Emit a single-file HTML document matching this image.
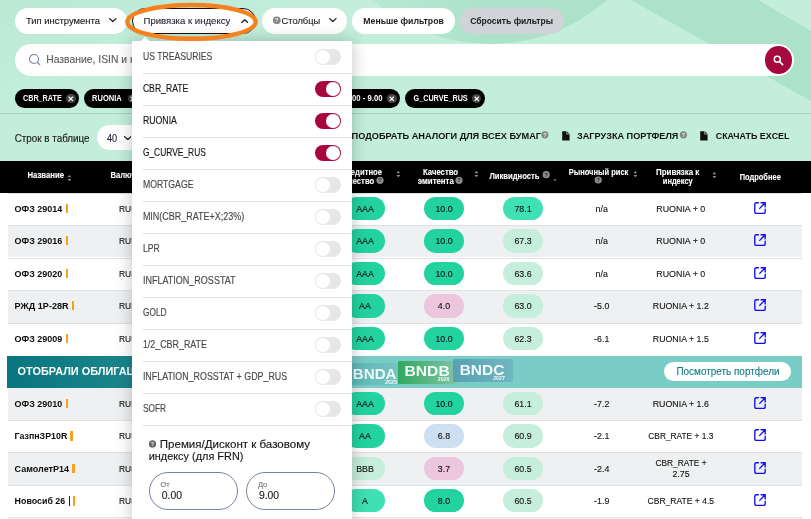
<!DOCTYPE html>
<html lang="ru">
<head>
<meta charset="utf-8">
<title>Облигации</title>
<style>
*{box-sizing:border-box;margin:0;padding:0}
html,body{width:811px;height:519px;overflow:hidden;background:#fff}
body{font-family:"Liberation Sans",sans-serif;color:#222;position:relative;font-size:10px}
.abs{position:absolute}
.tl{font-family:"Liberation Sans",sans-serif;pointer-events:none}
.tl text{white-space:pre}
i{font-style:normal}
#top{position:absolute;left:0;top:0;width:811px;height:161px;background:#c2eedb;overflow:hidden}
.btn{position:absolute;top:8px;height:25.8px;border-radius:13px;background:#fff}
#search{position:absolute;left:14.8px;top:44px;width:779px;height:32px;border-radius:16px;background:#fff}
.chip{position:absolute;top:88.9px;height:18.8px;border-radius:9.4px;background:#000}
.cx{position:absolute;top:93.7px;width:9.6px;height:9.6px;border-radius:50%;background:#444}
.q{position:absolute;border-radius:50%;font-size:6.2px;text-align:center;font-weight:700}
#thead{position:absolute;left:0;top:161.2px;width:811px;height:31.65px;background:#000}
.row{position:absolute;left:8px;width:793.6px;background:#fff;border-top:1px solid #dfe2e4}
.row.g{background:#eef0f1}
.bar{position:absolute;height:9.4px;background:#f5a31f}
.pill{position:absolute;width:40px;height:23.6px;border-radius:11.8px}
#dd{position:absolute;left:132.3px;top:41px;width:219.6px;height:480px;background:#fff;box-shadow:0 0 16px rgba(0,0,0,.24)}
#dd:before{content:"";position:absolute;left:9.4px;top:-2.8px;width:6px;height:6px;background:#fff;transform:rotate(45deg)}
.ln{position:absolute;left:142.8px;width:209.1px;height:1px;background:#dedede}
.tg{position:absolute;left:314.8px;width:26.2px;height:16px;border-radius:8px;background:#e6e6e6}
.tg:after{content:"";position:absolute;left:1.2px;top:1.2px;width:13.6px;height:13.6px;border-radius:50%;background:#fff}
.tg.on{background:#a8073d}
.tg.on:after{left:11.4px}
.inp{position:absolute;top:472.2px;width:88.8px;height:37.5px;border:1px solid #76839e;border-radius:19px}
#banner{position:absolute;left:7px;top:355.8px;width:794.8px;height:31.8px;background:linear-gradient(90deg,#09757f 0,#1b878c 16%,#4fb0b0 34%,#7accc6 43%,#7accc6 100%)}
.bn{position:absolute;border-radius:1.5px}
.pb{position:absolute;border-radius:9.5px;background:#fff}
</style>
</head>
<body>
<div id="top">
<svg class="abs" style="left:0;top:0" width="811" height="161" viewBox="0 0 811 161">
<defs><linearGradient id="tl" x1="0" y1="0" x2="1" y2="0.6"><stop offset="0" stop-color="#bae9d4"/><stop offset="0.3" stop-color="#c2eedb"/></linearGradient>
<linearGradient id="dg" x1="0" y1="0" x2="1" y2="0"><stop offset="0" stop-color="#ace2ca" stop-opacity="0.2"/><stop offset="0.5" stop-color="#ace2ca" stop-opacity="1"/></linearGradient></defs>
<rect width="811" height="161" fill="url(#tl)"/>
<circle cx="490" cy="-134" r="178" fill="url(#dg)"/>
<path d="M631 0 L758 0 L811 31 L811 101 Z" fill="#ace2ca"/>
<rect x="0" y="113" width="811" height="1" fill="#a9d2c1"/>
</svg>
<div class="btn" style="left:15px;width:112px"></div><svg class="abs" style="left:109.2px;top:18.45px" width="7.6" height="4.3" viewBox="0 0 7.6 4.3"><polyline points="0.6,0.6 3.8,3.6 7,0.6" fill="none" stroke="#222" stroke-width="1.3" stroke-linecap="round" stroke-linejoin="round"/></svg>
<div class="btn" style="left:132.4px;width:123.8px;border:1px solid #111"></div><svg class="abs" style="left:240.7px;top:18.55px" width="7.6" height="4.3" viewBox="0 0 7.6 4.3"><polyline points="0.6,3.7 3.8,0.7 7,3.7" fill="none" stroke="#222" stroke-width="1.3" stroke-linecap="round" stroke-linejoin="round"/></svg>
<div class="btn" style="left:261.8px;width:85.2px"></div><svg class="abs" style="left:329.1px;top:18.45px" width="7.6" height="4.3" viewBox="0 0 7.6 4.3"><polyline points="0.6,0.6 3.8,3.6 7,0.6" fill="none" stroke="#222" stroke-width="1.3" stroke-linecap="round" stroke-linejoin="round"/></svg>
<div class="btn" style="left:351.8px;width:103.4px"></div>
<div class="btn" style="left:460px;width:103.7px;background:#d0d3d7"></div>
<div id="search"></div>
<svg class="abs" style="left:28px;top:53px" width="13" height="13" viewBox="0 0 13 13"><circle cx="6" cy="6" r="4.5" fill="none" stroke="#7482a0" stroke-width="1.1"/><path d="M9.4 9.5 L11.8 11.7" stroke="#7482a0" stroke-width="1.1" stroke-linecap="round"/></svg>

<div class="abs" style="left:764.9px;top:46.4px;width:27.2px;height:27.2px;border-radius:50%;background:#a6093d"><svg class="abs" style="left:8.2px;top:8.2px" width="11" height="11" viewBox="0 0 11 11"><circle cx="4.3" cy="4.3" r="3" fill="none" stroke="#fff" stroke-width="1.5"/><path d="M6.7 6.7 L9.6 9.6" stroke="#fff" stroke-width="1.7" stroke-linecap="round"/></svg></div>
<div class="chip" style="left:14.8px;width:64.1px"></div><span class="cx" style="left:66px"><svg class="abs" style="left:0;top:0" width="9.6" height="9.6" viewBox="0 0 9.6 9.6"><path d="M3 3 L6.6 6.6 M6.6 3 L3 6.6" stroke="#fff" stroke-width="1.1" stroke-linecap="round"/></svg></span>
<div class="chip" style="left:83.8px;width:56.7px"></div><span class="cx" style="left:127.5px"><svg class="abs" style="left:0;top:0" width="9.6" height="9.6" viewBox="0 0 9.6 9.6"><path d="M3 3 L6.6 6.6 M6.6 3 L3 6.6" stroke="#fff" stroke-width="1.1" stroke-linecap="round"/></svg></span>
<div class="chip" style="left:145.4px;width:99.6px"></div><span class="cx" style="left:231.5px"><svg class="abs" style="left:0;top:0" width="9.6" height="9.6" viewBox="0 0 9.6 9.6"><path d="M3 3 L6.6 6.6 M6.6 3 L3 6.6" stroke="#fff" stroke-width="1.1" stroke-linecap="round"/></svg></span>
<div class="chip" style="left:250px;width:149.8px"></div><span class="cx" style="left:387px"><svg class="abs" style="left:0;top:0" width="9.6" height="9.6" viewBox="0 0 9.6 9.6"><path d="M3 3 L6.6 6.6 M6.6 3 L3 6.6" stroke="#fff" stroke-width="1.1" stroke-linecap="round"/></svg></span>
<div class="chip" style="left:404.8px;width:80.2px"></div><span class="cx" style="left:471.9px"><svg class="abs" style="left:0;top:0" width="9.6" height="9.6" viewBox="0 0 9.6 9.6"><path d="M3 3 L6.6 6.6 M6.6 3 L3 6.6" stroke="#fff" stroke-width="1.1" stroke-linecap="round"/></svg></span>

<div class="abs" style="left:97px;top:125px;width:50px;height:25px;border-radius:12.5px;background:#fff"></div><svg class="abs" style="left:123.7px;top:136.05px" width="7.6" height="4.3" viewBox="0 0 7.6 4.3"><polyline points="0.6,0.6 3.8,3.6 7,0.6" fill="none" stroke="#222" stroke-width="1.3" stroke-linecap="round" stroke-linejoin="round"/></svg>

<svg class="abs" style="left:562px;top:131.1px" width="7.8" height="9.8" viewBox="0 0 7.8 9.8"><path d="M0.2 0.2 H4.8 L7.6 3 V9.6 H0.2 Z" fill="#111"/><path d="M4.7 0.2 V3.1 H7.6" fill="none" stroke="#c2eedb" stroke-width="0.7"/></svg>
<svg class="abs" style="left:699.9px;top:131.1px" width="7.8" height="9.8" viewBox="0 0 7.8 9.8"><path d="M0.2 0.2 H4.8 L7.6 3 V9.6 H0.2 Z" fill="#111"/><path d="M4.7 0.2 V3.1 H7.6" fill="none" stroke="#c2eedb" stroke-width="0.7"/></svg>
</div>
<div id="thead"></div>
<svg class="abs" style="left:66.6px;top:174.5px" width="4.8" height="6.4" viewBox="0 0 4 6"><path d="M2 0.1 L3.9 2.2 H0.1 Z M2 5.9 L3.9 3.8 H0.1 Z" fill="#8e8e8e"/></svg>

<svg class="abs" style="left:395.7px;top:170.7px" width="4.8" height="6.4" viewBox="0 0 4 6"><path d="M2 0.1 L3.9 2.2 H0.1 Z M2 5.9 L3.9 3.8 H0.1 Z" fill="#8e8e8e"/></svg>
<svg class="abs" style="left:474.3px;top:170.7px" width="4.8" height="6.4" viewBox="0 0 4 6"><path d="M2 0.1 L3.9 2.2 H0.1 Z M2 5.9 L3.9 3.8 H0.1 Z" fill="#8e8e8e"/></svg>
<svg class="abs" style="left:553.1px;top:178.9px" width="4" height="2.2" viewBox="0 0 4 2.2"><path d="M0.2 0.2 H3.8 L2 2.1 Z" fill="#858585"/></svg>
<svg class="abs" style="left:632.5px;top:170.7px" width="4.8" height="6.4" viewBox="0 0 4 6"><path d="M2 0.1 L3.9 2.2 H0.1 Z M2 5.9 L3.9 3.8 H0.1 Z" fill="#8e8e8e"/></svg>
<svg class="abs" style="left:711.6px;top:171.9px" width="4.8" height="6.4" viewBox="0 0 4 6"><path d="M2 0.1 L3.9 2.2 H0.1 Z M2 5.9 L3.9 3.8 H0.1 Z" fill="#8e8e8e"/></svg>

<div class="row" style="top:192.6px;height:32.5px"></div>

<i class="bar" style="left:65.7px;top:203.9px;width:2.2px"></i>

<span class="pill" style="left:345px;top:196.8px;background:#22d3a0"></span>
<span class="pill" style="left:424px;top:196.8px;background:#22d3a0"></span>
<span class="pill" style="left:503px;top:196.8px;background:#3fe0b3"></span>


<svg class="abs" style="left:754px;top:201.8px" width="12" height="12.2" viewBox="0 0 12 12.2"><path d="M4.4 0.8 H2.3 Q0.8 0.8 0.8 2.3 V9.9 Q0.8 11.4 2.3 11.4 H9.7 Q11.2 11.4 11.2 9.9 V7.3" fill="none" stroke="#0d0df2" stroke-width="1.35" stroke-linecap="round"/><path d="M7.1 0.8 H11.2 V4.9 M11 1 L5.7 6.4" fill="none" stroke="#0d0df2" stroke-width="1.35" stroke-linecap="round" stroke-linejoin="miter"/></svg>
<div class="row g" style="top:225.1px;height:32.4px"></div>

<i class="bar" style="left:65.7px;top:236.1px;width:2.2px"></i>

<span class="pill" style="left:345px;top:229.3px;background:#22d3a0"></span>
<span class="pill" style="left:424px;top:229.3px;background:#22d3a0"></span>
<span class="pill" style="left:503px;top:229.3px;background:#c5eedc"></span>


<svg class="abs" style="left:754px;top:234.3px" width="12" height="12.2" viewBox="0 0 12 12.2"><path d="M4.4 0.8 H2.3 Q0.8 0.8 0.8 2.3 V9.9 Q0.8 11.4 2.3 11.4 H9.7 Q11.2 11.4 11.2 9.9 V7.3" fill="none" stroke="#0d0df2" stroke-width="1.35" stroke-linecap="round"/><path d="M7.1 0.8 H11.2 V4.9 M11 1 L5.7 6.4" fill="none" stroke="#0d0df2" stroke-width="1.35" stroke-linecap="round" stroke-linejoin="miter"/></svg>
<div class="row" style="top:257.5px;height:32.6px"></div>

<i class="bar" style="left:65.7px;top:268.8px;width:2.2px"></i>

<span class="pill" style="left:345px;top:261.7px;background:#22d3a0"></span>
<span class="pill" style="left:424px;top:261.7px;background:#22d3a0"></span>
<span class="pill" style="left:503px;top:261.7px;background:#c5eedc"></span>


<svg class="abs" style="left:754px;top:266.7px" width="12" height="12.2" viewBox="0 0 12 12.2"><path d="M4.4 0.8 H2.3 Q0.8 0.8 0.8 2.3 V9.9 Q0.8 11.4 2.3 11.4 H9.7 Q11.2 11.4 11.2 9.9 V7.3" fill="none" stroke="#0d0df2" stroke-width="1.35" stroke-linecap="round"/><path d="M7.1 0.8 H11.2 V4.9 M11 1 L5.7 6.4" fill="none" stroke="#0d0df2" stroke-width="1.35" stroke-linecap="round" stroke-linejoin="miter"/></svg>
<div class="row g" style="top:290.1px;height:32.5px"></div>

<i class="bar" style="left:72.1px;top:301.1px;width:2.2px"></i>

<span class="pill" style="left:345px;top:294.3px;background:#22d3a0"></span>
<span class="pill" style="left:424px;top:294.3px;background:#ebc6dc"></span>
<span class="pill" style="left:503px;top:294.3px;background:#c5eedc"></span>


<svg class="abs" style="left:754px;top:299.3px" width="12" height="12.2" viewBox="0 0 12 12.2"><path d="M4.4 0.8 H2.3 Q0.8 0.8 0.8 2.3 V9.9 Q0.8 11.4 2.3 11.4 H9.7 Q11.2 11.4 11.2 9.9 V7.3" fill="none" stroke="#0d0df2" stroke-width="1.35" stroke-linecap="round"/><path d="M7.1 0.8 H11.2 V4.9 M11 1 L5.7 6.4" fill="none" stroke="#0d0df2" stroke-width="1.35" stroke-linecap="round" stroke-linejoin="miter"/></svg>
<div class="row" style="top:322.6px;height:33.2px"></div>

<i class="bar" style="left:65.7px;top:334.1px;width:2.2px"></i>

<span class="pill" style="left:345px;top:326.8px;background:#22d3a0"></span>
<span class="pill" style="left:424px;top:326.8px;background:#22d3a0"></span>
<span class="pill" style="left:503px;top:326.8px;background:#c5eedc"></span>


<svg class="abs" style="left:754px;top:331.8px" width="12" height="12.2" viewBox="0 0 12 12.2"><path d="M4.4 0.8 H2.3 Q0.8 0.8 0.8 2.3 V9.9 Q0.8 11.4 2.3 11.4 H9.7 Q11.2 11.4 11.2 9.9 V7.3" fill="none" stroke="#0d0df2" stroke-width="1.35" stroke-linecap="round"/><path d="M7.1 0.8 H11.2 V4.9 M11 1 L5.7 6.4" fill="none" stroke="#0d0df2" stroke-width="1.35" stroke-linecap="round" stroke-linejoin="miter"/></svg>
<div class="row g" style="top:387.4px;height:32.4px"></div>

<i class="bar" style="left:65.7px;top:398.6px;width:2.2px"></i>

<span class="pill" style="left:345px;top:391.6px;background:#22d3a0"></span>
<span class="pill" style="left:424px;top:391.6px;background:#22d3a0"></span>
<span class="pill" style="left:503px;top:391.6px;background:#c5eedc"></span>


<svg class="abs" style="left:754px;top:396.6px" width="12" height="12.2" viewBox="0 0 12 12.2"><path d="M4.4 0.8 H2.3 Q0.8 0.8 0.8 2.3 V9.9 Q0.8 11.4 2.3 11.4 H9.7 Q11.2 11.4 11.2 9.9 V7.3" fill="none" stroke="#0d0df2" stroke-width="1.35" stroke-linecap="round"/><path d="M7.1 0.8 H11.2 V4.9 M11 1 L5.7 6.4" fill="none" stroke="#0d0df2" stroke-width="1.35" stroke-linecap="round" stroke-linejoin="miter"/></svg>
<div class="row" style="top:419.8px;height:32.5px"></div>

<i class="bar" style="left:70.2px;top:431.3px;width:3px"></i>

<span class="pill" style="left:345px;top:424px;background:#22d3a0"></span>
<span class="pill" style="left:424px;top:424px;background:#cddff0"></span>
<span class="pill" style="left:503px;top:424px;background:#c5eedc"></span>


<svg class="abs" style="left:754px;top:429px" width="12" height="12.2" viewBox="0 0 12 12.2"><path d="M4.4 0.8 H2.3 Q0.8 0.8 0.8 2.3 V9.9 Q0.8 11.4 2.3 11.4 H9.7 Q11.2 11.4 11.2 9.9 V7.3" fill="none" stroke="#0d0df2" stroke-width="1.35" stroke-linecap="round"/><path d="M7.1 0.8 H11.2 V4.9 M11 1 L5.7 6.4" fill="none" stroke="#0d0df2" stroke-width="1.35" stroke-linecap="round" stroke-linejoin="miter"/></svg>
<div class="row g" style="top:452.3px;height:32.4px"></div>

<i class="bar" style="left:72px;top:463.9px;width:3px"></i>

<span class="pill" style="left:345px;top:456.5px;background:#c5eedc"></span>
<span class="pill" style="left:424px;top:456.5px;background:#ebc6dc"></span>
<span class="pill" style="left:503px;top:456.5px;background:#c5eedc"></span>


<svg class="abs" style="left:754px;top:461.5px" width="12" height="12.2" viewBox="0 0 12 12.2"><path d="M4.4 0.8 H2.3 Q0.8 0.8 0.8 2.3 V9.9 Q0.8 11.4 2.3 11.4 H9.7 Q11.2 11.4 11.2 9.9 V7.3" fill="none" stroke="#0d0df2" stroke-width="1.35" stroke-linecap="round"/><path d="M7.1 0.8 H11.2 V4.9 M11 1 L5.7 6.4" fill="none" stroke="#0d0df2" stroke-width="1.35" stroke-linecap="round" stroke-linejoin="miter"/></svg>
<div class="row" style="top:484.7px;height:32.4px"></div>

<i class="bar" style="left:68.9px;top:496.2px;width:1.6px;background:#223"></i>
<i class="bar" style="left:72.8px;top:496.2px;width:2.4px"></i>

<span class="pill" style="left:345px;top:488.9px;background:#3fe0b3"></span>
<span class="pill" style="left:424px;top:488.9px;background:#22d3a0"></span>
<span class="pill" style="left:503px;top:488.9px;background:#c5eedc"></span>


<svg class="abs" style="left:754px;top:493.9px" width="12" height="12.2" viewBox="0 0 12 12.2"><path d="M4.4 0.8 H2.3 Q0.8 0.8 0.8 2.3 V9.9 Q0.8 11.4 2.3 11.4 H9.7 Q11.2 11.4 11.2 9.9 V7.3" fill="none" stroke="#0d0df2" stroke-width="1.35" stroke-linecap="round"/><path d="M7.1 0.8 H11.2 V4.9 M11 1 L5.7 6.4" fill="none" stroke="#0d0df2" stroke-width="1.35" stroke-linecap="round" stroke-linejoin="miter"/></svg>
<div class="row g" style="top:517.1px;height:4px"></div>
<div id="banner"></div>

<div class="bn" style="left:337px;top:363.1px;width:66.1px;height:22.2px;background:linear-gradient(90deg,#3a9fa4,#70c3c0);opacity:0.55"></div>
<div class="bn" style="left:398.3px;top:361.3px;width:58.8px;height:22.4px;background:linear-gradient(90deg,#2fa65a,#80c3a4);opacity:0.95"></div>
<div class="bn" style="left:453.1px;top:359.1px;width:59.5px;height:22.9px;background:linear-gradient(90deg,#559fb0,#70b6c0);opacity:0.95"></div>
<div class="pb" style="left:663.9px;top:362px;width:127.5px;height:19px"></div>
<svg class="abs tl" style="left:0;top:0" width="811" height="519" viewBox="0 0 811 519"><text x="25.9" y="24.27" font-size="9.7" fill="#222" textLength="74" lengthAdjust="spacingAndGlyphs" stroke="#222" stroke-width="0.14">Тип инструмента</text>
<text x="143.5" y="24.31" font-size="9.8" fill="#1c1c30" textLength="86.8" lengthAdjust="spacingAndGlyphs" stroke="#1c1c30" stroke-width="0.1">Привязка к индексу</text>
<circle cx="276.8" cy="20.3" r="3.85" fill="#858585"/><text x="276.8" y="22.25" font-size="5.5" font-weight="700" fill="#fff" fill-opacity="0.9" text-anchor="middle">?</text>
<text x="281.6" y="24.27" font-size="9.7" fill="#222" textLength="38.6" lengthAdjust="spacingAndGlyphs" stroke="#222" stroke-width="0.14">Столбцы</text>
<text x="363.3" y="24.24" font-size="9.6" fill="#1a1a1a" font-weight="700" textLength="80.5" lengthAdjust="spacingAndGlyphs">Меньше фильтров</text>
<text x="470.2" y="24.24" font-size="9.6" fill="#1a1a1a" font-weight="700" textLength="82.8" lengthAdjust="spacingAndGlyphs">Сбросить фильтры</text>
<text x="46.2" y="62.83" font-size="10.7" fill="#5e5e5e" textLength="201.46" lengthAdjust="spacingAndGlyphs" stroke="#5e5e5e" stroke-width="0.14">Название, ISIN и наименование эмитента</text>
<text x="23" y="101.37" font-size="8.3" fill="#fff" font-weight="700" textLength="38.7" lengthAdjust="spacingAndGlyphs">CBR_RATE</text>
<text x="92.1" y="101.37" font-size="8.3" fill="#fff" font-weight="700" textLength="29.6" lengthAdjust="spacingAndGlyphs">RUONIA</text>
<text x="153.6" y="101.37" font-size="8.3" fill="#fff" font-weight="700" textLength="73" lengthAdjust="spacingAndGlyphs">Плавающий купон (FRN)</text>
<text x="277.76" y="101.37" font-size="8.3" fill="#fff" font-weight="700" textLength="104.74" lengthAdjust="spacingAndGlyphs">Премия/Дисконт: 0.00 - 9.00</text>
<text x="413.5" y="101.37" font-size="8.3" fill="#fff" font-weight="700" textLength="54.2" lengthAdjust="spacingAndGlyphs">G_CURVE_RUS</text>
<text x="14.7" y="141.58" font-size="10" fill="#1a1a1a" textLength="74.9" lengthAdjust="spacingAndGlyphs" stroke="#1a1a1a" stroke-width="0.14">Строк в таблице</text>
<text x="107" y="141.58" font-size="10" fill="#1c1c3a" textLength="10.2" lengthAdjust="spacingAndGlyphs" stroke="#1c1c3a" stroke-width="0.14">40</text>
<text x="351.6" y="139.2" font-size="9.5" fill="#111" font-weight="700" textLength="189.4" lengthAdjust="spacingAndGlyphs">ПОДОБРАТЬ АНАЛОГИ ДЛЯ ВСЕХ БУМАГ</text>
<circle cx="544.9" cy="134.8" r="3.6" fill="#858585"/><text x="544.9" y="136.75" font-size="5.5" font-weight="700" fill="#fff" fill-opacity="0.9" text-anchor="middle">?</text>
<text x="577" y="139.2" font-size="9.5" fill="#111" font-weight="700" textLength="101.4" lengthAdjust="spacingAndGlyphs">ЗАГРУЗКА ПОРТФЕЛЯ</text>
<circle cx="683.4" cy="134.8" r="3.6" fill="#858585"/><text x="683.4" y="136.75" font-size="5.5" font-weight="700" fill="#fff" fill-opacity="0.9" text-anchor="middle">?</text>
<text x="715.8" y="139.2" font-size="9.5" fill="#111" font-weight="700" textLength="73.6" lengthAdjust="spacingAndGlyphs">СКАЧАТЬ EXCEL</text>
<text x="27.5" y="178" font-size="8.3" fill="#fff" font-weight="700" textLength="36.6" lengthAdjust="spacingAndGlyphs" stroke="#fff" stroke-width="0.1">Название</text>
<text x="110.4" y="178" font-size="8.3" fill="#fff" font-weight="700" textLength="29.1" lengthAdjust="spacingAndGlyphs" stroke="#fff" stroke-width="0.1">Валюта</text>
<text x="341.4" y="175" font-size="8.3" fill="#fff" font-weight="700" textLength="40.6" lengthAdjust="spacingAndGlyphs" stroke="#fff" stroke-width="0.1">Кредитное</text>
<text x="340.3" y="183.6" font-size="8.3" fill="#fff" font-weight="700" textLength="33.9" lengthAdjust="spacingAndGlyphs" stroke="#fff" stroke-width="0.1">качество</text>
<circle cx="380" cy="180.3" r="3.6" fill="#8c8c8c"/><text x="380" y="182.25" font-size="5.5" font-weight="700" fill="#111" fill-opacity="0.9" text-anchor="middle">?</text>
<text x="423" y="175" font-size="8.3" fill="#fff" font-weight="700" textLength="35.1" lengthAdjust="spacingAndGlyphs" stroke="#fff" stroke-width="0.1">Качество</text>
<text x="417.8" y="183.6" font-size="8.3" fill="#fff" font-weight="700" textLength="36" lengthAdjust="spacingAndGlyphs" stroke="#fff" stroke-width="0.1">эмитента</text>
<circle cx="459" cy="180.3" r="3.6" fill="#8c8c8c"/><text x="459" y="182.25" font-size="5.5" font-weight="700" fill="#111" fill-opacity="0.9" text-anchor="middle">?</text>
<text x="489.4" y="178.6" font-size="8.3" fill="#fff" font-weight="700" textLength="50" lengthAdjust="spacingAndGlyphs" stroke="#fff" stroke-width="0.1">Ликвидность</text>
<circle cx="546.2" cy="174.7" r="3.6" fill="#8c8c8c"/><text x="546.2" y="176.65" font-size="5.5" font-weight="700" fill="#111" fill-opacity="0.9" text-anchor="middle">?</text>
<text x="568.7" y="175" font-size="8.3" fill="#fff" font-weight="700" textLength="59.7" lengthAdjust="spacingAndGlyphs" stroke="#fff" stroke-width="0.1">Рыночный риск</text>
<circle cx="598.2" cy="180" r="3.6" fill="#8c8c8c"/><text x="598.2" y="181.95" font-size="5.5" font-weight="700" fill="#111" fill-opacity="0.9" text-anchor="middle">?</text>
<text x="656" y="175" font-size="8.3" fill="#fff" font-weight="700" textLength="43.3" lengthAdjust="spacingAndGlyphs" stroke="#fff" stroke-width="0.1">Привязка к</text>
<text x="662.8" y="183.6" font-size="8.3" fill="#fff" font-weight="700" textLength="29.9" lengthAdjust="spacingAndGlyphs" stroke="#fff" stroke-width="0.1">индексу</text>
<text x="739.7" y="180.1" font-size="8.3" fill="#fff" font-weight="700" textLength="41.1" lengthAdjust="spacingAndGlyphs" stroke="#fff" stroke-width="0.1">Подробнее</text>
<text x="14.6" y="211.94" font-size="9.6" fill="#0c0c0c" font-weight="700" textLength="47.7" lengthAdjust="spacingAndGlyphs">ОФЗ 29014</text>
<text x="119" y="212.01" font-size="9.8" fill="#111" textLength="17.79" lengthAdjust="spacingAndGlyphs" stroke="#111" stroke-width="0.12">RUB</text>
<text x="356.18" y="212.01" font-size="9.8" fill="#111" textLength="17.65" lengthAdjust="spacingAndGlyphs" stroke="#111" stroke-width="0.12">AAA</text>
<text x="435.42" y="212.01" font-size="9.8" fill="#111" textLength="17.17" lengthAdjust="spacingAndGlyphs" stroke="#111" stroke-width="0.12">10.0</text>
<text x="514.42" y="212.01" font-size="9.8" fill="#111" textLength="17.17" lengthAdjust="spacingAndGlyphs" stroke="#111" stroke-width="0.12">78.1</text>
<text x="595.57" y="212.01" font-size="9.8" fill="#111" textLength="12.26" lengthAdjust="spacingAndGlyphs" stroke="#111" stroke-width="0.12">n/a</text>
<text x="656.3" y="212.01" font-size="9.8" fill="#111" textLength="49" lengthAdjust="spacingAndGlyphs" stroke="#111" stroke-width="0.12">RUONIA + 0</text>
<text x="14.6" y="244.14" font-size="9.6" fill="#0c0c0c" font-weight="700" textLength="47.7" lengthAdjust="spacingAndGlyphs">ОФЗ 29016</text>
<text x="119" y="244.21" font-size="9.8" fill="#111" textLength="17.79" lengthAdjust="spacingAndGlyphs" stroke="#111" stroke-width="0.12">RUB</text>
<text x="356.18" y="244.21" font-size="9.8" fill="#111" textLength="17.65" lengthAdjust="spacingAndGlyphs" stroke="#111" stroke-width="0.12">AAA</text>
<text x="435.42" y="244.21" font-size="9.8" fill="#111" textLength="17.17" lengthAdjust="spacingAndGlyphs" stroke="#111" stroke-width="0.12">10.0</text>
<text x="514.42" y="244.21" font-size="9.8" fill="#111" textLength="17.17" lengthAdjust="spacingAndGlyphs" stroke="#111" stroke-width="0.12">67.3</text>
<text x="595.57" y="244.21" font-size="9.8" fill="#111" textLength="12.26" lengthAdjust="spacingAndGlyphs" stroke="#111" stroke-width="0.12">n/a</text>
<text x="656.3" y="244.21" font-size="9.8" fill="#111" textLength="49" lengthAdjust="spacingAndGlyphs" stroke="#111" stroke-width="0.12">RUONIA + 0</text>
<text x="14.6" y="276.84" font-size="9.6" fill="#0c0c0c" font-weight="700" textLength="47.7" lengthAdjust="spacingAndGlyphs">ОФЗ 29020</text>
<text x="119" y="276.91" font-size="9.8" fill="#111" textLength="17.79" lengthAdjust="spacingAndGlyphs" stroke="#111" stroke-width="0.12">RUB</text>
<text x="356.18" y="276.91" font-size="9.8" fill="#111" textLength="17.65" lengthAdjust="spacingAndGlyphs" stroke="#111" stroke-width="0.12">AAA</text>
<text x="435.42" y="276.91" font-size="9.8" fill="#111" textLength="17.17" lengthAdjust="spacingAndGlyphs" stroke="#111" stroke-width="0.12">10.0</text>
<text x="514.42" y="276.91" font-size="9.8" fill="#111" textLength="17.17" lengthAdjust="spacingAndGlyphs" stroke="#111" stroke-width="0.12">63.6</text>
<text x="595.57" y="276.91" font-size="9.8" fill="#111" textLength="12.26" lengthAdjust="spacingAndGlyphs" stroke="#111" stroke-width="0.12">n/a</text>
<text x="656.3" y="276.91" font-size="9.8" fill="#111" textLength="49" lengthAdjust="spacingAndGlyphs" stroke="#111" stroke-width="0.12">RUONIA + 0</text>
<text x="14.6" y="309.14" font-size="9.6" fill="#0c0c0c" font-weight="700" textLength="54.1" lengthAdjust="spacingAndGlyphs">РЖД 1Р-28R</text>
<text x="119" y="309.21" font-size="9.8" fill="#111" textLength="17.79" lengthAdjust="spacingAndGlyphs" stroke="#111" stroke-width="0.12">RUB</text>
<text x="359.12" y="309.21" font-size="9.8" fill="#111" textLength="11.77" lengthAdjust="spacingAndGlyphs" stroke="#111" stroke-width="0.12">AA</text>
<text x="437.87" y="309.21" font-size="9.8" fill="#111" textLength="12.26" lengthAdjust="spacingAndGlyphs" stroke="#111" stroke-width="0.12">4.0</text>
<text x="514.42" y="309.21" font-size="9.8" fill="#111" textLength="17.17" lengthAdjust="spacingAndGlyphs" stroke="#111" stroke-width="0.12">63.0</text>
<text x="594.1" y="309.21" font-size="9.8" fill="#111" textLength="15.2" lengthAdjust="spacingAndGlyphs" stroke="#111" stroke-width="0.12">-5.0</text>
<text x="652.8" y="309.21" font-size="9.8" fill="#111" textLength="56" lengthAdjust="spacingAndGlyphs" stroke="#111" stroke-width="0.12">RUONIA + 1.2</text>
<text x="14.6" y="342.14" font-size="9.6" fill="#0c0c0c" font-weight="700" textLength="47.7" lengthAdjust="spacingAndGlyphs">ОФЗ 29009</text>
<text x="119" y="342.21" font-size="9.8" fill="#111" textLength="17.79" lengthAdjust="spacingAndGlyphs" stroke="#111" stroke-width="0.12">RUB</text>
<text x="356.18" y="342.21" font-size="9.8" fill="#111" textLength="17.65" lengthAdjust="spacingAndGlyphs" stroke="#111" stroke-width="0.12">AAA</text>
<text x="435.42" y="342.21" font-size="9.8" fill="#111" textLength="17.17" lengthAdjust="spacingAndGlyphs" stroke="#111" stroke-width="0.12">10.0</text>
<text x="514.42" y="342.21" font-size="9.8" fill="#111" textLength="17.17" lengthAdjust="spacingAndGlyphs" stroke="#111" stroke-width="0.12">62.3</text>
<text x="594.1" y="342.21" font-size="9.8" fill="#111" textLength="15.2" lengthAdjust="spacingAndGlyphs" stroke="#111" stroke-width="0.12">-6.1</text>
<text x="652.8" y="342.21" font-size="9.8" fill="#111" textLength="56" lengthAdjust="spacingAndGlyphs" stroke="#111" stroke-width="0.12">RUONIA + 1.5</text>
<text x="14.6" y="406.64" font-size="9.6" fill="#0c0c0c" font-weight="700" textLength="47.7" lengthAdjust="spacingAndGlyphs">ОФЗ 29010</text>
<text x="119" y="406.71" font-size="9.8" fill="#111" textLength="17.79" lengthAdjust="spacingAndGlyphs" stroke="#111" stroke-width="0.12">RUB</text>
<text x="356.18" y="406.71" font-size="9.8" fill="#111" textLength="17.65" lengthAdjust="spacingAndGlyphs" stroke="#111" stroke-width="0.12">AAA</text>
<text x="435.42" y="406.71" font-size="9.8" fill="#111" textLength="17.17" lengthAdjust="spacingAndGlyphs" stroke="#111" stroke-width="0.12">10.0</text>
<text x="514.42" y="406.71" font-size="9.8" fill="#111" textLength="17.17" lengthAdjust="spacingAndGlyphs" stroke="#111" stroke-width="0.12">61.1</text>
<text x="594.1" y="406.71" font-size="9.8" fill="#111" textLength="15.2" lengthAdjust="spacingAndGlyphs" stroke="#111" stroke-width="0.12">-7.2</text>
<text x="652.7" y="406.71" font-size="9.8" fill="#111" textLength="56.2" lengthAdjust="spacingAndGlyphs" stroke="#111" stroke-width="0.12">RUONIA + 1.6</text>
<text x="14.6" y="439.34" font-size="9.6" fill="#0c0c0c" font-weight="700" textLength="52.7" lengthAdjust="spacingAndGlyphs">ГазпнЗР10R</text>
<text x="119" y="439.41" font-size="9.8" fill="#111" textLength="17.79" lengthAdjust="spacingAndGlyphs" stroke="#111" stroke-width="0.12">RUB</text>
<text x="359.12" y="439.41" font-size="9.8" fill="#111" textLength="11.77" lengthAdjust="spacingAndGlyphs" stroke="#111" stroke-width="0.12">AA</text>
<text x="437.87" y="439.41" font-size="9.8" fill="#111" textLength="12.26" lengthAdjust="spacingAndGlyphs" stroke="#111" stroke-width="0.12">6.8</text>
<text x="514.42" y="439.41" font-size="9.8" fill="#111" textLength="17.17" lengthAdjust="spacingAndGlyphs" stroke="#111" stroke-width="0.12">60.9</text>
<text x="594.1" y="439.41" font-size="9.8" fill="#111" textLength="15.2" lengthAdjust="spacingAndGlyphs" stroke="#111" stroke-width="0.12">-2.1</text>
<text x="648.3" y="439.41" font-size="9.8" fill="#111" textLength="65" lengthAdjust="spacingAndGlyphs" stroke="#111" stroke-width="0.12">CBR_RATE + 1.3</text>
<text x="14.6" y="471.94" font-size="9.6" fill="#0c0c0c" font-weight="700" textLength="54.5" lengthAdjust="spacingAndGlyphs">СамолетР14</text>
<text x="119" y="472.01" font-size="9.8" fill="#111" textLength="17.79" lengthAdjust="spacingAndGlyphs" stroke="#111" stroke-width="0.12">RUB</text>
<text x="356.18" y="472.01" font-size="9.8" fill="#111" textLength="17.65" lengthAdjust="spacingAndGlyphs" stroke="#111" stroke-width="0.12">BBB</text>
<text x="437.87" y="472.01" font-size="9.8" fill="#111" textLength="12.26" lengthAdjust="spacingAndGlyphs" stroke="#111" stroke-width="0.12">3.7</text>
<text x="514.42" y="472.01" font-size="9.8" fill="#111" textLength="17.17" lengthAdjust="spacingAndGlyphs" stroke="#111" stroke-width="0.12">60.5</text>
<text x="594.1" y="472.01" font-size="9.8" fill="#111" textLength="15.2" lengthAdjust="spacingAndGlyphs" stroke="#111" stroke-width="0.12">-2.4</text>
<text x="655.5" y="466.41" font-size="9.8" fill="#111" textLength="51" lengthAdjust="spacingAndGlyphs" stroke="#111" stroke-width="0.12">CBR_RATE +</text>
<text x="672.42" y="477.41" font-size="9.8" fill="#111" textLength="17.17" lengthAdjust="spacingAndGlyphs" stroke="#111" stroke-width="0.12">2.75</text>
<text x="14.6" y="504.24" font-size="9.6" fill="#0c0c0c" font-weight="700" textLength="50.6" lengthAdjust="spacingAndGlyphs">Новосиб 26</text>
<text x="119" y="504.31" font-size="9.8" fill="#111" textLength="17.79" lengthAdjust="spacingAndGlyphs" stroke="#111" stroke-width="0.12">RUB</text>
<text x="362.06" y="504.31" font-size="9.8" fill="#111" textLength="5.88" lengthAdjust="spacingAndGlyphs" stroke="#111" stroke-width="0.12">A</text>
<text x="437.87" y="504.31" font-size="9.8" fill="#111" textLength="12.26" lengthAdjust="spacingAndGlyphs" stroke="#111" stroke-width="0.12">8.0</text>
<text x="514.42" y="504.31" font-size="9.8" fill="#111" textLength="17.17" lengthAdjust="spacingAndGlyphs" stroke="#111" stroke-width="0.12">60.5</text>
<text x="594.1" y="504.31" font-size="9.8" fill="#111" textLength="15.2" lengthAdjust="spacingAndGlyphs" stroke="#111" stroke-width="0.12">-1.9</text>
<text x="647.55" y="504.31" font-size="9.8" fill="#111" textLength="66.5" lengthAdjust="spacingAndGlyphs" stroke="#111" stroke-width="0.12">CBR_RATE + 4.5</text>
<text x="17.6" y="374.98" font-size="10" fill="#fff" font-weight="700" textLength="208.45" lengthAdjust="spacingAndGlyphs">ОТОБРАЛИ ОБЛИГАЦИИ В ПОРТФЕЛИ</text>
<text x="352.8" y="378.61" font-size="14" fill="#fff" font-weight="700" textLength="43.7" lengthAdjust="spacingAndGlyphs" fill-opacity="0.92">BNDA</text>
<text x="385" y="383.79" font-size="5" fill="#fff" font-weight="700" textLength="12.2" lengthAdjust="spacingAndGlyphs" fill-opacity="0.92">2025</text>
<text x="404.5" y="376.41" font-size="14" fill="#fff" font-weight="700" textLength="45.2" lengthAdjust="spacingAndGlyphs" fill-opacity="0.92">BNDB</text>
<text x="437.8" y="381.49" font-size="5" fill="#fff" font-weight="700" textLength="11.5" lengthAdjust="spacingAndGlyphs" fill-opacity="0.92">2026</text>
<text x="459.7" y="374.91" font-size="14" fill="#fff" font-weight="700" textLength="44.6" lengthAdjust="spacingAndGlyphs" fill-opacity="0.92">BNDC</text>
<text x="493.2" y="379.79" font-size="5" fill="#fff" font-weight="700" textLength="11.6" lengthAdjust="spacingAndGlyphs" fill-opacity="0.92">2027</text>
<text x="676.4" y="375.18" font-size="10" fill="#1b7c84" textLength="103.1" lengthAdjust="spacingAndGlyphs" stroke="#1b7c84" stroke-width="0.14">Посмотреть портфели</text></svg>
<div id="dd"></div>
<i class="ln" style="top:73px"></i>

<span class="tg" style="top:48.9px"></span>
<i class="ln" style="top:105px"></i>

<span class="tg on" style="top:80.9px"></span>
<i class="ln" style="top:137px"></i>

<span class="tg on" style="top:112.9px"></span>
<i class="ln" style="top:169px"></i>

<span class="tg on" style="top:144.9px"></span>
<i class="ln" style="top:201px"></i>

<span class="tg" style="top:176.9px"></span>
<i class="ln" style="top:233px"></i>

<span class="tg" style="top:208.9px"></span>
<i class="ln" style="top:265px"></i>

<span class="tg" style="top:240.9px"></span>
<i class="ln" style="top:297px"></i>

<span class="tg" style="top:272.9px"></span>
<i class="ln" style="top:329px"></i>

<span class="tg" style="top:304.9px"></span>
<i class="ln" style="top:361px"></i>

<span class="tg" style="top:336.9px"></span>
<i class="ln" style="top:393px"></i>

<span class="tg" style="top:368.9px"></span>
<i class="ln" style="top:425px"></i>

<span class="tg" style="top:400.9px"></span>



<div class="inp" style="left:149px"></div>
<div class="inp" style="left:246.3px"></div>
<svg class="abs tl" style="left:0;top:0" width="811" height="519" viewBox="0 0 811 519"><text x="142.9" y="60.29" font-size="10.3" fill="#484848" textLength="69.5" lengthAdjust="spacingAndGlyphs" stroke="#484848" stroke-width="0.14">US TREASURIES</text>
<text x="142.9" y="92.29" font-size="10.3" fill="#161616" textLength="45.4" lengthAdjust="spacingAndGlyphs" stroke="#161616" stroke-width="0.14">CBR_RATE</text>
<text x="142.9" y="124.29" font-size="10.3" fill="#161616" textLength="34" lengthAdjust="spacingAndGlyphs" stroke="#161616" stroke-width="0.14">RUONIA</text>
<text x="142.9" y="156.29" font-size="10.3" fill="#161616" textLength="63" lengthAdjust="spacingAndGlyphs" stroke="#161616" stroke-width="0.14">G_CURVE_RUS</text>
<text x="142.9" y="188.29" font-size="10.3" fill="#484848" textLength="50.6" lengthAdjust="spacingAndGlyphs" stroke="#484848" stroke-width="0.14">MORTGAGE</text>
<text x="142.9" y="220.29" font-size="10.3" fill="#484848" textLength="101.4" lengthAdjust="spacingAndGlyphs" stroke="#484848" stroke-width="0.14">MIN(CBR_RATE+X;23%)</text>
<text x="142.9" y="252.29" font-size="10.3" fill="#484848" textLength="16.8" lengthAdjust="spacingAndGlyphs" stroke="#484848" stroke-width="0.14">LPR</text>
<text x="142.9" y="284.29" font-size="10.3" fill="#484848" textLength="92.7" lengthAdjust="spacingAndGlyphs" stroke="#484848" stroke-width="0.14">INFLATION_ROSSTAT</text>
<text x="142.9" y="316.29" font-size="10.3" fill="#484848" textLength="23.7" lengthAdjust="spacingAndGlyphs" stroke="#484848" stroke-width="0.14">GOLD</text>
<text x="142.9" y="348.29" font-size="10.3" fill="#484848" textLength="64.1" lengthAdjust="spacingAndGlyphs" stroke="#484848" stroke-width="0.14">1/2_CBR_RATE</text>
<text x="142.9" y="380.29" font-size="10.3" fill="#484848" textLength="144.3" lengthAdjust="spacingAndGlyphs" stroke="#484848" stroke-width="0.14">INFLATION_ROSSTAT + GDP_RUS</text>
<text x="142.9" y="412.29" font-size="10.3" fill="#484848" textLength="23.2" lengthAdjust="spacingAndGlyphs" stroke="#484848" stroke-width="0.14">SOFR</text>
<circle cx="152.5" cy="443.9" r="3.6" fill="#666"/><text x="152.5" y="445.85" font-size="5.5" font-weight="700" fill="#fff" fill-opacity="0.9" text-anchor="middle">?</text>
<text x="159.8" y="447.95" font-size="11.6" fill="#161616" textLength="150.2" lengthAdjust="spacingAndGlyphs" stroke="#161616" stroke-width="0.14">Премия/Дисконт к базовому</text>
<text x="148.7" y="459.55" font-size="11.6" fill="#161616" textLength="94.7" lengthAdjust="spacingAndGlyphs" stroke="#161616" stroke-width="0.14">индексу (для FRN)</text>
<text x="160.6" y="486.55" font-size="7.4" fill="#777" stroke="#777" stroke-width="0.14">От</text>
<text x="161.8" y="499.14" font-size="11" fill="#222" textLength="20.2" lengthAdjust="spacingAndGlyphs" stroke="#222" stroke-width="0.14">0.00</text>
<text x="257.9" y="486.55" font-size="7.4" fill="#777" stroke="#777" stroke-width="0.14">До</text>
<text x="258.9" y="499.14" font-size="11" fill="#222" textLength="20.2" lengthAdjust="spacingAndGlyphs" stroke="#222" stroke-width="0.14">9.00</text></svg>
<svg class="abs" style="left:120px;top:0" width="145" height="46" viewBox="0 0 145 46"><ellipse cx="71.5" cy="21.9" rx="64.1" ry="16.9" fill="none" stroke="#f5811f" stroke-width="4.4"/></svg>
</body>
</html>
